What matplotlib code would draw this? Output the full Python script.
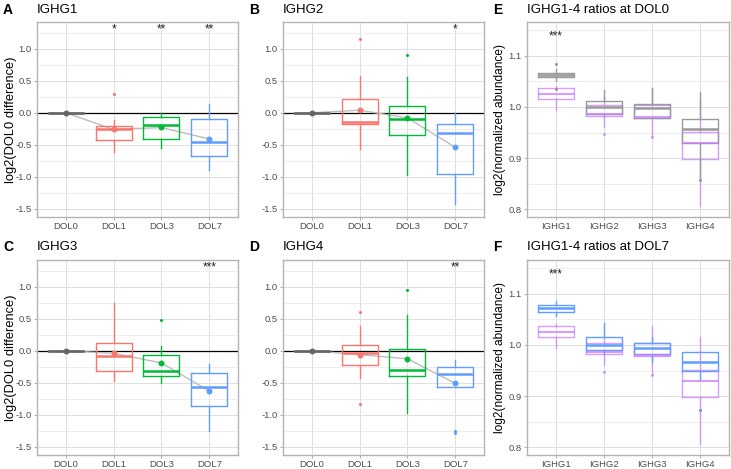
import matplotlib
matplotlib.use("Agg")
import matplotlib.pyplot as plt
from matplotlib.ticker import MultipleLocator

plt.rcParams['font.family'] = ['Liberation Sans', 'DejaVu Sans']
plt.rcParams['axes.unicode_minus'] = False

days = ["DOL0", "DOL1", "DOL3", "DOL7"]
genes = ["IGHG1", "IGHG2", "IGHG3", "IGHG4"]
day_colors = ["#666666", "#F8766D", "#00BA38", "#619CFF"]

# panel A - IGHG1
a_q1 = [0, -0.43, -0.41, -0.67]
a_med = [0, -0.25, -0.19, -0.46]
a_q3 = [0, -0.20, -0.07, -0.10]
a_lo = [0, -0.61, -0.55, -0.90]
a_hi = [0, -0.11, 0.00, 0.13]
a_mean = [0, -0.26, -0.23, -0.41]
a_out = [[], [0.30], [], []]
a_star = ["", "*", "**", "**"]

# panel B - IGHG2
b_q1 = [0, -0.18, -0.34, -0.96]
b_med = [0, -0.14, -0.10, -0.31]
b_q3 = [0, 0.21, 0.10, -0.17]
b_lo = [0, -0.57, -0.97, -1.42]
b_hi = [0, 0.58, 0.56, 0.00]
b_mean = [0, 0.04, -0.08, -0.54]
b_out = [[], [1.16], [0.90], []]
b_star = ["", "", "", "*"]

# panel C - IGHG3
c_q1 = [0, -0.32, -0.39, -0.87]
c_med = [0, -0.085, -0.31, -0.56]
c_q3 = [0, 0.115, -0.07, -0.345]
c_lo = [0, -0.47, -0.51, -1.25]
c_hi = [0, 0.74, 0.07, -0.21]
c_mean = [0, -0.04, -0.19, -0.63]
c_out = [[], [], [0.48], []]
c_star = ["", "", "", "***"]

# panel D - IGHG4
d_q1 = [0, -0.22, -0.39, -0.56]
d_med = [0, -0.03, -0.30, -0.37]
d_q3 = [0, 0.094, 0.026, -0.26]
d_lo = [0, -0.43, -0.97, -0.56]
d_hi = [0, 0.39, 0.555, -0.14]
d_mean = [0, -0.06, -0.125, -0.51]
d_out = [[], [0.60, -0.84], [0.95], [-1.25, -1.29]]
d_star = ["", "", "", "**"]

# reference ratios (purple), shared by E and F
p_q1 = [1.015, 0.982, 0.979, 0.899]
p_med = [1.025, 0.986, 0.981, 0.929]
p_q3 = [1.037, 1.003, 1.003, 0.952]
p_lo = [0.995, 0.961, 0.943, 0.806]
p_hi = [1.040, 1.020, 1.037, 1.015]
p_out = [[], [0.947], [0.941], []]

# panel E - DOL0 (grey)
e_q1 = [1.0584, 0.986, 0.979, 0.929]
e_med = [1.063, 1.0006, 0.997, 0.956]
e_q3 = [1.067, 1.011, 1.006, 0.977]
e_lo = [1.050, 0.983, 0.979, 0.862]
e_hi = [1.074, 1.034, 1.037, 1.0286]
e_out = [[1.084, 1.035], [], [], [0.857]]

# panel F - DOL7 (blue)
f_q1 = [1.0645, 0.990, 0.982, 0.950]
f_med = [1.072, 1.000, 0.994, 0.967]
f_q3 = [1.078, 1.015, 1.004, 0.987]
f_lo = [1.057, 0.982, 0.966, 0.934]
f_hi = [1.085, 1.042, 1.016, 0.987]
f_out = [[], [], [], [0.873]]

ratio_star = ["***", "", "", ""]

W, H = 731, 469
fig = plt.figure(figsize=(W / 100, H / 100), dpi=100)


def rect(l, t, r, b):
    return [l / W, 1 - b / H, (r - l) / W, (b - t) / H]


def style(ax):
    ax.set_axisbelow(True)
    ax.grid(which='major', color='#DEDEDE', lw=0.7)
    ax.grid(which='minor', axis='y', color='#E8E8E8', lw=0.5)
    for s in ax.spines.values():
        s.set_color('#B3B3B3')
        s.set_linewidth(1.0)
    ax.tick_params(which='major', length=2.5, color='#B3B3B3', labelcolor='#4D4D4D',
                   labelsize=6.8, pad=1.2)
    ax.tick_params(which='minor', length=0)


def headings(rc, letter, title):
    ty = 1 - 10 / H if rc[1] < 100 else 1 - 247 / H
    fig.text(rc[0] / W, ty, title, fontsize=9.5, ha='left', va='center')
    fig.text((rc[0] - 34) / W, ty, letter, fontsize=10, fontweight='bold',
             ha='left', va='center')


def box(ax, i, q1, med, q3, lo, hi, out, color, alpha=1.0, medw=1.8):
    st = [dict(q1=q1, med=med, q3=q3, whislo=lo, whishi=hi, fliers=out)]
    ax.bxp(st, positions=[i], widths=0.75, showcaps=False,
           boxprops=dict(color=color, lw=1.0, alpha=alpha),
           whiskerprops=dict(color=color, lw=1.0, alpha=alpha),
           medianprops=dict(color=color, lw=medw, alpha=alpha),
           flierprops=dict(marker='o', markersize=2.2, markerfacecolor=color,
                           markeredgecolor='none', alpha=alpha))


def diff_panel(rc, letter, title, q1, med, q3, lo, hi, mean, out, star, ylabel):
    ax = fig.add_axes(rect(*rc))
    style(ax)
    ax.axhline(0, color='black', lw=0.9, zorder=1.5)
    ax.plot(range(4), mean, color='#BDBDBD', lw=1.0, zorder=2)
    for i in range(4):
        box(ax, i, q1[i], med[i], q3[i], lo[i], hi[i], out[i], day_colors[i])
        ax.plot(i, mean[i], 'o', color=day_colors[i], markersize=4.3,
                markeredgewidth=0, zorder=4)
        if star[i]:
            ax.text(i, 1.30, star[i], ha='center', va='center', fontsize=8.5, color='#222222')
    ax.set_xlim(-0.6, 3.6)
    ax.set_ylim(-1.63, 1.42)
    ax.yaxis.set_major_locator(MultipleLocator(0.5))
    ax.yaxis.set_minor_locator(MultipleLocator(0.25))
    ax.set_xticks(range(4))
    ax.set_xticklabels(days)
    if ylabel:
        ax.set_ylabel("log2(DOL0 difference)", fontsize=9.3)
        ax.yaxis.set_label_coords((17 - rc[0]) / (rc[2] - rc[0]), 0.5)
    headings(rc, letter, title)
    return ax


def ratio_panel(rc, letter, title, q1, med, q3, lo, hi, out, color):
    ax = fig.add_axes(rect(*rc))
    style(ax)
    for i in range(4):
        box(ax, i, p_q1[i], p_med[i], p_q3[i], p_lo[i], p_hi[i], p_out[i],
            "#C77CFF", alpha=0.75, medw=1.5)
        box(ax, i, q1[i], med[i], q3[i], lo[i], hi[i], out[i], color, medw=1.8)
        if ratio_star[i]:
            ax.text(i, 1.138, ratio_star[i], ha='center', va='center', fontsize=8.5, color='#222222')
    ax.set_xlim(-0.6, 3.6)
    ax.set_ylim(0.785, 1.166)
    ax.yaxis.set_major_locator(MultipleLocator(0.1))
    ax.yaxis.set_minor_locator(MultipleLocator(0.05))
    ax.set_xticks(range(4))
    ax.set_xticklabels(genes)
    ax.set_ylabel("log2(normalized abundance)", fontsize=8.6)
    ax.yaxis.set_label_coords((506 - rc[0]) / (rc[2] - rc[0]), 0.5)
    headings(rc, letter, title)
    return ax


diff_panel((37, 22, 238, 217), "A", "IGHG1", a_q1, a_med, a_q3, a_lo, a_hi, a_mean, a_out, a_star, True)
diff_panel((283, 22, 484, 217), "B", "IGHG2", b_q1, b_med, b_q3, b_lo, b_hi, b_mean, b_out, b_star, False)
diff_panel((37, 260, 238, 455), "C", "IGHG3", c_q1, c_med, c_q3, c_lo, c_hi, c_mean, c_out, c_star, True)
diff_panel((283, 260, 484, 455), "D", "IGHG4", d_q1, d_med, d_q3, d_lo, d_hi, d_mean, d_out, d_star, False)
ratio_panel((527, 22, 729, 217), "E", "IGHG1-4 ratios at DOL0", e_q1, e_med, e_q3, e_lo, e_hi, e_out, "#999999")
ratio_panel((527, 260, 729, 455), "F", "IGHG1-4 ratios at DOL7", f_q1, f_med, f_q3, f_lo, f_hi, f_out, "#619CFF")

fig.savefig("out.png", dpi=100)
